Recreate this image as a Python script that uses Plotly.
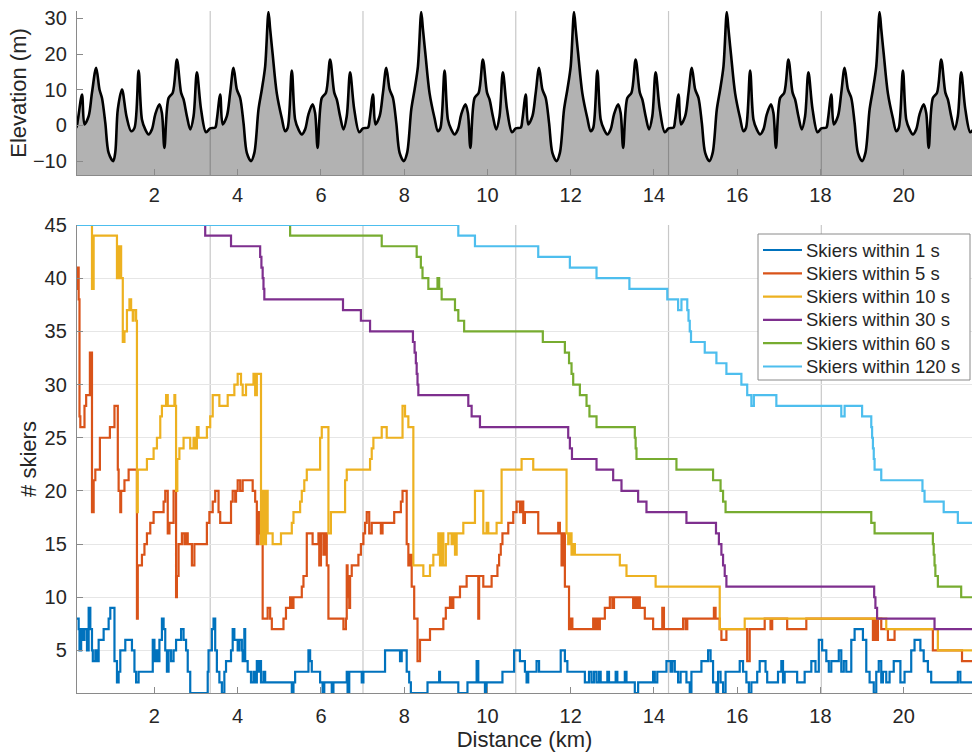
import plotly.graph_objects as go

# ---------------- course elevation ----------------
# opening (short) lap, distance from start (km) and elevation (m)
first_lap_km = [0.00, 0.12, 0.16, 0.26, 0.32, 0.42, 0.50, 0.60, 0.68, 0.74, 0.82, 0.90,
                1.01, 1.06, 1.12, 1.22, 1.33, 1.44, 1.52, 1.62, 1.70, 1.78, 1.86, 1.94,
                2.02, 2.12, 2.18, 2.24, 2.34, 2.44, 2.54, 2.64, 2.70, 2.78, 2.86, 2.94,
                3.02, 3.12, 3.24, 3.34]
first_lap_m = [-0.8, -0.6, 1.5, 8.7, 0.3, 2.6, 9.2, 16.2, 10.1, 7.7, 0.7, -7.7,
               -10.0, -7.5, 4.5, 10.1, 2.5, -1.6, -0.7, 15.4, 1.7, -1.1, -2.5, -1.1,
               3.1, 5.9, 3.5, -6.3, 7.7, 9.2, 18.5, 9.2, 7.3, 2.6, -1.1, 2.6,
               14.9, 4.5, -1.9, -0.8]

# full lap (with the big climb), distance into the lap (km) and elevation (m)
lap_km = [0.00, 0.12, 0.16, 0.24, 0.30, 0.40, 0.48, 0.56, 0.64, 0.72, 0.80, 0.88,
          0.98, 1.06, 1.16, 1.24, 1.32, 1.40, 1.44, 1.50, 1.60, 1.72, 1.80, 1.86,
          1.96, 2.04, 2.12, 2.20, 2.28, 2.36, 2.46, 2.52, 2.58, 2.68, 2.78, 2.88,
          2.98, 3.04, 3.12, 3.20, 3.28, 3.36, 3.46, 3.58, 3.67]
lap_m = [-0.8, -0.6, 1.7, 8.7, 0.3, 2.6, 9.2, 16.2, 10.1, 7.7, 0.7, -7.7,
         -10.0, -7.7, 4.5, 10.1, 16.6, 31.8, 27.0, 20.0, 9.0, 2.0, -1.6, -0.7,
         15.4, 1.7, -1.1, -2.5, -1.1, 3.1, 5.9, 3.5, -6.3, 7.7, 9.2, 18.5,
         9.2, 7.3, 2.6, -1.1, 2.6, 14.9, 4.5, -1.9, -0.8]

lap_lengths_km = [3.34, 3.67, 3.67, 3.67, 3.67, 3.67]

# ---------------- skiers within a time gap (step series) ----------------
within_1s_km = [0.14, 0.18, 0.20, 0.24, 0.28, 0.32, 0.38, 0.42, 0.46, 0.50, 0.52, 0.58, 0.62, 0.66,
                0.78, 0.90, 0.94, 1.04, 1.10, 1.14, 1.18, 1.30, 1.46, 1.52, 1.56, 1.62, 1.94, 1.96,
                2.00, 2.04, 2.08, 2.12, 2.18, 2.22, 2.26, 2.30, 2.34, 2.40, 2.46, 2.52, 2.64, 2.70,
                2.76, 2.80, 2.86, 3.28, 3.30, 3.38, 3.42, 3.46, 3.50, 3.56, 3.62, 3.68, 3.72, 3.84,
                3.88, 3.92, 4.00, 4.04, 4.10, 4.12, 4.16, 4.18, 4.24, 4.32, 4.38, 4.42, 4.46, 4.50,
                4.54, 4.56, 4.62, 4.66, 5.30, 5.34, 5.38, 5.70, 5.74, 5.78, 5.98, 6.04, 6.08, 6.26,
                6.30, 6.62, 6.64, 6.68, 6.98, 7.02, 7.54, 7.90, 7.94, 8.06, 8.12, 8.16, 8.56, 8.84,
                8.86, 9.30, 9.52, 9.74, 9.78, 9.94, 9.98, 10.36, 10.64, 10.78, 10.90, 10.94, 10.98,
                11.18, 11.24, 11.76, 11.86, 11.92, 12.34, 12.44, 12.50, 12.56, 12.62, 12.68, 12.72,
                12.88, 12.92, 13.08, 13.12, 13.30, 13.34, 13.54, 13.62, 13.98, 14.02, 14.08, 14.30,
                14.40, 14.44, 14.50, 14.58, 14.64, 14.78, 14.86, 14.90, 15.14, 15.30, 15.36, 15.42,
                15.50, 15.54, 15.60, 15.66, 15.72, 16.06, 16.14, 16.22, 16.28, 16.34, 16.48, 16.54,
                16.68, 16.72, 16.98, 17.06, 17.10, 17.14, 17.44, 17.62, 17.78, 17.88, 17.96, 18.04,
                18.14, 18.20, 18.26, 18.44, 18.50, 18.56, 18.62, 18.74, 18.82, 19.02, 19.10, 19.18,
                19.28, 19.34, 19.40, 19.46, 19.50, 19.58, 19.66, 19.76, 19.92, 20.02, 20.18, 20.26,
                20.40, 20.48, 20.58, 20.66, 21.30, 21.36, 21.64]
within_1s_n = [8, 7, 5, 7, 6, 7, 5, 9, 7, 5, 4, 5, 4, 6,
               7, 8, 9, 4, 2, 3, 5, 6, 5, 3, 2, 3, 3, 6,
               4, 5, 4, 6, 8, 7, 5, 3, 5, 4, 5, 6, 7, 6,
               5, 3, 1, 3, 5, 7, 8, 5, 3, 2, 1, 3, 4, 5,
               7, 6, 5, 6, 5, 4, 7, 4, 3, 2, 3, 2, 4, 3,
               4, 2, 3, 2, 1, 2, 3, 5, 4, 3, 2, 1, 2, 1,
               2, 3, 1, 3, 2, 3, 5, 4, 5, 3, 2, 1, 2, 3,
               2, 1, 2, 4, 2, 1, 2, 3, 5, 4, 3, 2, 3,
               4, 3, 5, 4, 3, 2, 3, 2, 3, 2, 3, 2,
               3, 2, 3, 2, 3, 2, 1, 2, 3, 2, 3, 4,
               3, 4, 3, 2, 3, 2, 1, 3, 4, 5, 4, 2,
               1, 3, 2, 1, 3, 4, 3, 2, 1, 2, 3, 4,
               3, 2, 3, 4, 2, 3, 2, 3, 4, 3, 6, 5,
               4, 3, 4, 5, 3, 4, 3, 6, 7, 6, 3, 2,
               1, 3, 4, 2, 3, 2, 3, 4, 2, 3, 5, 6,
               5, 4, 3, 2, 3, 2, 2]

within_5s_km = [0.14, 0.16, 0.18, 0.20, 0.22, 0.32, 0.36, 0.45, 0.50, 0.54, 0.58, 0.69, 0.93, 1.04,
                1.12, 1.14, 1.18, 1.20, 1.28, 1.38, 1.58, 1.60, 1.70, 1.76, 1.82, 1.90, 1.98, 2.22,
                2.26, 2.32, 2.36, 2.46, 2.52, 2.54, 2.58, 2.66, 2.72, 2.76, 2.80, 2.90, 2.96, 3.26,
                3.32, 3.40, 3.46, 3.54, 3.58, 3.84, 3.88, 3.94, 3.96, 4.00, 4.06, 4.12, 4.36, 4.42,
                4.46, 4.50, 4.54, 4.60, 4.72, 4.78, 4.82, 5.10, 5.16, 5.26, 5.30, 5.34, 5.54, 5.58,
                5.66, 5.80, 5.94, 5.96, 6.00, 6.06, 6.10, 6.14, 6.18, 6.54, 6.60, 6.62, 6.64, 6.66,
                6.68, 6.70, 6.74, 6.90, 6.96, 7.02, 7.06, 7.10, 7.16, 7.22, 7.44, 7.48, 7.76, 7.92,
                7.96, 8.06, 8.10, 8.14, 8.18, 8.24, 8.32, 8.38, 8.62, 8.94, 9.00, 9.10, 9.14, 9.18,
                9.34, 9.50, 9.74, 9.78, 9.80, 9.90, 10.10, 10.24, 10.28, 10.32, 10.36, 10.50, 10.62,
                10.70, 10.78, 10.82, 10.86, 10.90, 11.22, 11.70, 11.74, 11.78, 11.82, 11.86, 11.96,
                12.00, 12.04, 12.54, 12.58, 12.62, 12.66, 12.70, 12.82, 12.94, 13.00, 13.04, 13.50,
                13.54, 13.58, 13.62, 13.66, 13.78, 13.98, 14.20, 14.24, 14.70, 14.76, 14.80, 15.44,
                15.48, 15.58, 15.62, 15.74, 16.24, 16.30, 16.66, 16.80, 16.84, 17.20, 17.66, 19.26,
                19.30, 19.34, 19.38, 19.46, 19.62, 19.78, 20.70, 21.40, 21.64]
within_5s_n = [39, 41, 38, 27, 26, 28, 29, 33, 18, 21, 22, 25, 26, 28,
               22, 20, 18, 20, 21, 22, 8, 13, 14, 15, 16, 17, 18, 19,
               20, 16, 17, 20, 10, 12, 15, 16, 15, 16, 15, 13, 15, 17,
               18, 19, 20, 18, 17, 19, 20, 19, 20, 21, 20, 21, 20, 19,
               15, 18, 16, 8, 9, 8, 7, 8, 9, 10, 9, 10, 11, 12,
               16, 15, 16, 13, 16, 14, 16, 13, 8, 7, 8, 13, 10, 12,
               9, 12, 13, 14, 15, 16, 17, 18, 16, 17, 16, 17, 18, 19,
               20, 15, 13, 14, 11, 8, 4, 6, 7, 8, 9, 10, 9, 10,
               11, 12, 12, 8, 12, 11, 12, 13, 14, 15, 16, 17, 18,
               19, 18, 19, 17, 18, 16, 17, 16, 13, 16, 11, 7,
               8, 7, 8, 7, 8, 7, 8, 9, 10, 9, 10, 9,
               10, 9, 10, 9, 8, 7, 9, 7, 8, 7, 8, 9,
               8, 7, 6, 7, 4, 7, 8, 7, 8, 7, 8, 6,
               8, 6, 8, 7, 6, 7, 5, 4, 4]

within_10s_km = [0.14, 0.50, 0.54, 1.10, 1.12, 1.15, 1.17, 1.20, 1.24, 1.28, 1.34, 1.40, 1.44, 1.48,
                 1.50, 1.56, 1.58, 1.60, 1.82, 1.98, 2.06, 2.14, 2.18, 2.28, 2.32, 2.48, 2.50, 2.52,
                 2.55, 2.60, 2.70, 2.86, 2.94, 2.98, 3.02, 3.06, 3.26, 3.34, 3.40, 3.56, 3.76, 3.92,
                 4.00, 4.08, 4.12, 4.20, 4.38, 4.42, 4.46, 4.56, 4.60, 4.64, 4.68, 4.72, 4.84, 5.04,
                 5.30, 5.34, 5.50, 5.54, 5.60, 5.66, 5.98, 6.02, 6.18, 6.24, 6.58, 6.62, 7.18, 7.22,
                 7.26, 7.46, 7.58, 7.96, 8.02, 8.10, 8.22, 8.46, 8.62, 8.70, 8.82, 8.86, 8.90, 8.94,
                 9.00, 9.06, 9.14, 9.18, 9.22, 9.26, 9.42, 9.70, 9.90, 9.98, 10.02, 10.22, 10.34,
                 10.82, 11.10, 11.90, 11.94, 11.98, 12.02, 12.06, 12.10, 13.18, 13.34, 14.04, 15.58,
                 16.18, 19.58, 20.82, 21.64]
within_10s_n = [45, 39, 44, 40, 43, 40, 43, 40, 34, 35, 37, 38, 37, 36,
                37, 36, 18, 22, 23, 24, 25, 27, 28, 29, 28, 29, 28, 20,
                23, 24, 25, 24, 25, 24, 26, 25, 26, 27, 29, 28, 29, 30,
                31, 30, 29, 30, 31, 29, 31, 15, 20, 15, 20, 16, 15, 16,
                17, 18, 19, 20, 21, 22, 25, 26, 16, 18, 21, 22, 23, 24,
                25, 26, 25, 28, 27, 26, 13, 12, 13, 14, 16, 13, 16, 13,
                15, 16, 15, 16, 14, 16, 17, 20, 16, 17, 16, 17, 22,
                23, 22, 16, 15, 16, 14, 15, 14, 13, 12, 11, 7,
                8, 7, 5, 5]

within_30s_km = [0.14, 3.22, 3.84, 4.54, 4.57, 4.60, 4.62, 4.64, 6.53, 6.96, 7.18, 8.21, 8.25, 8.28,
                 8.30, 8.32, 8.34, 9.54, 9.62, 9.82, 11.94, 11.98, 12.03, 12.62, 13.02, 13.22, 13.62,
                 13.82, 14.78, 15.49, 15.56, 15.62, 15.66, 15.70, 15.74, 19.29, 19.32, 19.36, 20.74,
                 21.64]
within_30s_n = [45, 44, 43, 42, 41, 40, 39, 38, 37, 36, 35, 34, 33, 32,
                31, 30, 29, 28, 27, 26, 25, 24, 23, 22, 21, 20, 19,
                18, 17, 16, 15, 14, 13, 12, 11, 10, 9, 8, 7,
                7]

within_60s_km = [0.14, 5.26, 7.46, 8.30, 8.40, 8.44, 8.58, 8.80, 8.84, 8.90, 9.22, 9.30, 9.44, 11.33,
                 11.86, 11.96, 12.02, 12.06, 12.22, 12.38, 12.45, 12.62, 13.54, 13.56, 13.58, 14.54,
                 15.42, 15.60, 15.66, 15.72, 19.22, 19.30, 20.70, 20.72, 20.74, 20.76, 20.82, 21.38,
                 21.64]
within_60s_n = [45, 44, 43, 42, 41, 40, 39, 40, 39, 38, 37, 36, 35, 34,
                33, 32, 31, 30, 29, 28, 27, 26, 25, 24, 23, 22,
                21, 20, 19, 18, 17, 16, 15, 14, 13, 12, 11, 10,
                10]

within_120s_km = [0.14, 9.30, 9.70, 11.22, 11.98, 12.62, 13.41, 14.32, 14.58, 14.66, 14.80, 14.83,
                  14.86, 14.89, 15.22, 15.50, 15.74, 16.10, 16.24, 16.34, 16.40, 16.94, 18.50, 18.58,
                  19.00, 19.22, 19.24, 19.26, 19.28, 19.30, 19.46, 20.45, 20.50, 20.96, 21.30, 21.64]
within_120s_n = [45, 44, 43, 42, 41, 40, 39, 38, 37, 38, 37, 36,
                 35, 34, 33, 32, 31, 30, 29, 28, 29, 28, 27, 28,
                 27, 26, 25, 24, 23, 22, 21, 20, 19, 18, 17, 17]

series_names = ["Skiers within 1 s", "Skiers within 5 s", "Skiers within 10 s",
                "Skiers within 30 s", "Skiers within 60 s", "Skiers within 120 s"]
series_km = [within_1s_km, within_5s_km, within_10s_km, within_30s_km, within_60s_km, within_120s_km]
series_n = [within_1s_n, within_5s_n, within_10s_n, within_30s_n, within_60s_n, within_120s_n]
series_colors = ["#0072BD", "#D95319", "#EDB120", "#7E2F8E", "#77AC30", "#4DBEEE"]

# ---------------- build the full course profile ----------------
lap_starts = [0.0]
for length in lap_lengths_km[:-1]:
    lap_starts.append(round(lap_starts[-1] + length, 2))

course_km = list(first_lap_km)
course_m = list(first_lap_m)
for start in lap_starts[1:]:
    course_km += [start + d for d in lap_km[1:]]
    course_m += lap_m[1:]

X_RANGE = [0.14, 21.64]
ELEV_RANGE = [-13.9, 32.1]
SKIER_RANGE = [1, 45]

FONT = "Liberation Sans, Arial, Helvetica, sans-serif"
TEXT = "#262626"
AXIS = "#8a8a8a"

# page geometry (pixels) used to place the boxed legend
W, H = 972, 753
M_L, M_R, M_T, M_B = 77, 0, 11, 60
PLOT_W = W - M_L - M_R
PLOT_H = H - M_T - M_B


def px_x(px):
    return (px - M_L) / PLOT_W


def px_y(py):
    return (H - M_B - py) / PLOT_H


fig = go.Figure()

# floor of the elevation fill, at the bottom of the axis
fig.add_trace(go.Scatter(x=[course_km[0], course_km[-1]], y=[ELEV_RANGE[0]] * 2,
                         mode="lines", line=dict(width=0), hoverinfo="skip",
                         showlegend=False, xaxis="x", yaxis="y"))
fig.add_trace(go.Scatter(x=course_km, y=course_m, mode="lines",
                         line=dict(color="black", width=2.6, shape="spline", smoothing=0.9),
                         fill="tonexty", fillcolor="rgba(0,0,0,0.30)",
                         showlegend=False, xaxis="x", yaxis="y"))

for name, xs, ys, col in zip(series_names, series_km, series_n, series_colors):
    fig.add_trace(go.Scatter(x=xs, y=ys, mode="lines", name=name,
                             line=dict(color=col, width=2.2, shape="hv"),
                             showlegend=False, xaxis="x2", yaxis="y2"))

# lap boundaries in both panels
shapes = []
for start in lap_starts[1:]:
    shapes.append(dict(type="line", xref="x", yref="y domain", x0=start, x1=start, y0=0, y1=1,
                       line=dict(color="#c8c8c8", width=1.2), layer="below"))
    shapes.append(dict(type="line", xref="x2", yref="y2 domain", x0=start, x1=start, y0=0, y1=1,
                       line=dict(color="#c8c8c8", width=1.2), layer="below"))

# boxed legend in the upper right of the lower panel
LEG_L, LEG_R, LEG_T, LEG_B = 758, 970, 234, 380
ROW0, ROW_STEP = 250.0, 23.3
shapes.append(dict(type="rect", xref="paper", yref="paper",
                   x0=px_x(LEG_L), x1=px_x(LEG_R), y0=px_y(LEG_B), y1=px_y(LEG_T),
                   line=dict(color="#8a8a8a", width=1), fillcolor="white", layer="above"))
annotations = []
for i, (name, col) in enumerate(zip(series_names, series_colors)):
    row_y = px_y(ROW0 + i * ROW_STEP)
    shapes.append(dict(type="line", xref="paper", yref="paper",
                       x0=px_x(763), x1=px_x(802), y0=row_y, y1=row_y,
                       line=dict(color=col, width=2.2), layer="above"))
    annotations.append(dict(xref="paper", yref="paper", x=px_x(804), y=row_y,
                            xanchor="left", yanchor="middle", showarrow=False, text=name,
                            font=dict(family=FONT, size=18.5, color=TEXT)))

tickfont = dict(family=FONT, size=20, color=TEXT)
titlefont = dict(family=FONT, size=22, color=TEXT)
common = dict(showline=True, linecolor=AXIS, linewidth=1.3, ticks="inside", ticklen=6,
              tickcolor=AXIS, tickwidth=1, tickfont=tickfont, zeroline=False)

xticks = list(range(2, 22, 2))

fig.update_layout(
    width=W, height=H,
    margin=dict(l=M_L, r=M_R, t=M_T, b=M_B),
    paper_bgcolor="white", plot_bgcolor="white",
    shapes=shapes,
    annotations=annotations,
    showlegend=False,
    xaxis=dict(domain=[0, 1], anchor="y", range=X_RANGE, tickvals=xticks,
               showgrid=False, ticklabelstandoff=2, **common),
    yaxis=dict(domain=[px_y(175), 1], anchor="x", range=ELEV_RANGE, tickvals=[-10, 0, 10, 20, 30],
               showgrid=False, ticklabelstandoff=5,
               title=dict(text="Elevation (m)", font=titlefont, standoff=0), **common),
    xaxis2=dict(domain=[0, 1], anchor="y2", range=X_RANGE, tickvals=xticks,
                showgrid=False, ticklabelstandoff=5,
                title=dict(text="Distance (km)", font=titlefont, standoff=4), **common),
    yaxis2=dict(domain=[0, px_y(225)], anchor="x2", range=SKIER_RANGE,
                tickvals=[5, 10, 15, 20, 25, 30, 35, 40, 45],
                showgrid=True, gridcolor="#e6e6e6", gridwidth=1, ticklabelstandoff=5,
                title=dict(text="# skiers", font=titlefont, standoff=1), **common),
)

fig.write_html("out.html")
